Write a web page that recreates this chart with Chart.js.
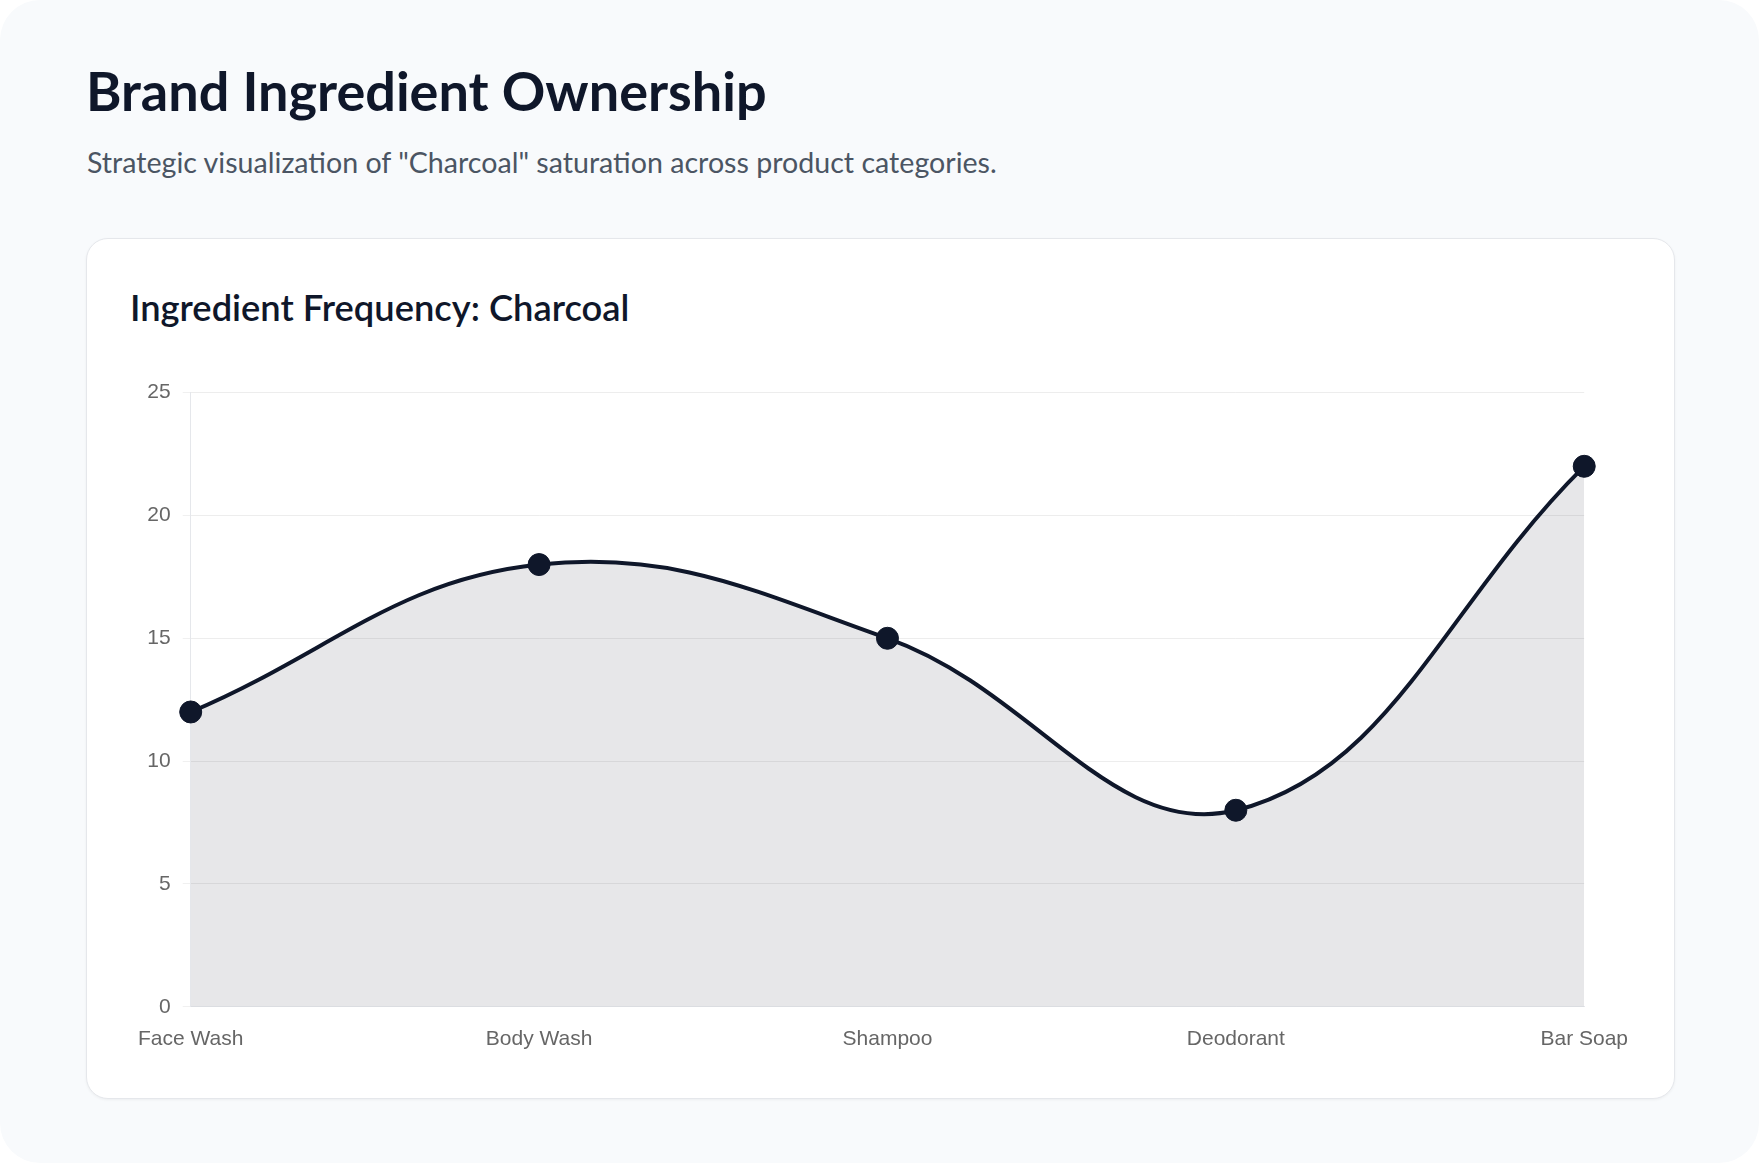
<!DOCTYPE html>
<html>
<head>
<meta charset="utf-8">
<script src="https://cdn.jsdelivr.net/npm/chart.js@4.4.1/dist/chart.umd.min.js"></script>
<style>
  html, body { margin: 0; padding: 0; background: #ffffff; }
  #page {
    position: relative; width: 1759px; height: 1163px; box-sizing: border-box;
    background: #f8fafc; border-radius: 40px; overflow: hidden;
    font-family: Lato, "Open Sans", sans-serif;
  }
  h1 {
    position: absolute; left: 86px; top: 59px; margin: 0;
    font-size: 54px; line-height: 64px; font-weight: 700; color: #0f172a;
  }
  .sub {
    position: absolute; left: 87px; top: 143px; margin: 0;
    font-size: 28.6px; line-height: 38px; color: #4b5563;
  }
  #card {
    position: absolute; left: 86px; top: 238px; width: 1589px; height: 861px;
    box-sizing: border-box; background: #ffffff; border: 1px solid #e5e7eb;
    border-radius: 22px; box-shadow: 0 1px 3px rgba(0,0,0,0.05);
  }
  h2 {
    position: absolute; left: 43px; top: 44px; margin: 0;
    font-size: 36.3px; line-height: 48px; font-weight: 600; color: #0f172a;
  }
  #wrap { position: absolute; left: 31px; top: 129px; width: 1530px; height: 704px; }
</style>
</head>
<body>
<div id="page">
  <h1>Brand Ingredient Ownership</h1>
  <p class="sub">Strategic visualization of "Charcoal" saturation across product categories.</p>
  <div id="card">
    <h2>Ingredient Frequency: Charcoal</h2>
    <div id="wrap"><canvas id="c"></canvas></div>
  </div>
</div>
<script>
const categories = ["Face Wash", "Body Wash", "Shampoo", "Deodorant", "Bar Soap"];
const frequency = [12, 18, 15, 8, 22];
const yTicks = [0, 5, 10, 15, 20, 25];

new Chart(document.getElementById('c'), {
  type: 'line',
  data: {
    labels: categories,
    datasets: [{
      label: 'Charcoal',
      data: frequency,
      borderColor: '#0f172a',
      backgroundColor: 'rgba(15,23,42,0.1)',
      borderWidth: 4,
      fill: true,
      tension: 0.4,
      pointRadius: 11,
      pointBorderWidth: 1,
      pointBackgroundColor: '#0f172a',
      pointBorderColor: '#0f172a'
    }]
  },
  options: {
    responsive: true,
    maintainAspectRatio: false,
    animation: false,
    layout: { padding: { left: 4, right: 0, top: 0, bottom: 0 } },
    plugins: { legend: { display: false }, tooltip: { enabled: false } },
    scales: {
      x: {
        grid: { display: false, drawTicks: false },
        border: { display: true, color: '#e5e7eb' },
        ticks: { color: '#666', font: { family: "'Liberation Sans', Arial, sans-serif", size: 21 }, padding: 20 }
      },
      y: {
        min: 0, max: 25,
        afterBuildTicks: (axis) => { axis.ticks = yTicks.map(v => ({ value: v })); },
        grid: { color: 'rgba(0,0,0,0.07)', tickLength: 8, tickColor: 'rgba(0,0,0,0.06)' },
        border: { display: true, color: '#e5e7eb' },
        ticks: { color: '#666', font: { family: "'Liberation Sans', Arial, sans-serif", size: 21 }, padding: 12 }
      }
    }
  }
});
</script>
</body>
</html>
